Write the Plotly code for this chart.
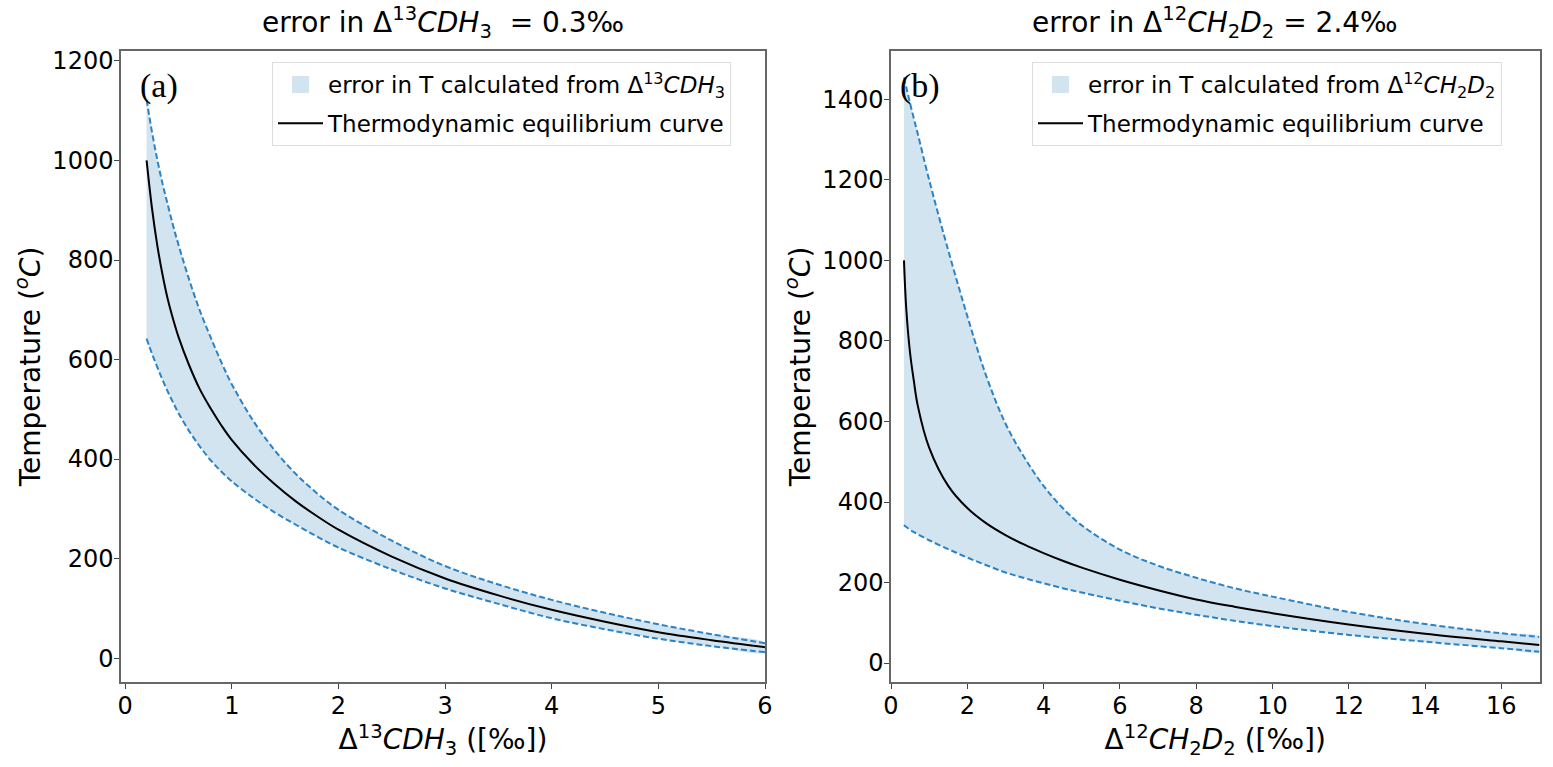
import plotly.graph_objects as go

# panel (a): Delta13CDH3 vs temperature, error 0.3 permil
x_a = [0.2, 0.25, 0.3, 0.35, 0.4, 0.45, 0.5, 0.6, 0.7, 0.8, 0.9, 1.0, 1.2, 1.4, 1.6, 1.8, 2.0, 2.5, 3.0, 3.5, 4.0, 4.5, 5.0, 5.5, 6.0]
t_eq_a = [1000, 905, 830, 770, 720, 680, 645, 588, 540, 502, 468, 438, 390, 350, 315, 285, 258, 204, 160, 126, 97, 73, 52, 36, 22]
t_hi_a = [1122, 1058, 1002, 953, 910, 868, 830, 760, 698, 645, 595, 550, 477, 418, 370, 331, 298, 236, 185, 148, 117, 91, 68, 48, 30]
t_lo_a = [642, 612, 585, 559, 535, 513, 492, 456, 425, 398, 375, 355, 322, 293, 268, 244, 222, 178, 140, 109, 80, 58, 39, 24, 12]

# panel (b): Delta12CH2D2 vs temperature, error 2.4 permil
x_b = [0.34, 0.4, 0.5, 0.6, 0.7, 1.0, 1.5, 2.0, 2.5, 3.0, 3.5, 4.0, 4.5, 5.0, 6.0, 7.0, 8.0, 9.0, 10.0, 12.0, 14.0, 16.0, 17.0]
t_eq_b = [1000, 880, 770, 700, 640, 535, 440, 385, 347, 318, 294, 273, 254, 237, 207, 181, 158, 140, 124, 96, 73, 54, 45]
t_hi_b = [1454, 1430, 1390, 1352, 1315, 1200, 1025, 862, 712, 595, 510, 440, 385, 342, 282, 242, 212, 186, 165, 127, 97, 74, 65]
t_lo_b = [343, 338, 331, 325, 320, 305, 283, 262, 243, 225, 211, 198, 186, 175, 155, 136, 120, 105, 92, 70, 53, 37, 28]

band_color = "rgba(31,119,180,0.2)"
patch_color = "rgb(210,228,240)"
dash_color = "#2b83c6"
font = "DejaVu Sans"

fig = go.Figure()


def add_panel(xs, eq, hi, lo, xa, ya, leg, band_name):
    # banda de error
    fig.add_trace(go.Scatter(x=xs + xs[::-1], y=hi + lo[::-1], fill="toself",
                             fillcolor=band_color, line=dict(width=0), mode="lines",
                             line_shape="spline", showlegend=False,
                             xaxis=xa, yaxis=ya, hoverinfo="skip"))
    # solo para la leyenda (cuadro relleno)
    fig.add_trace(go.Bar(x=[None], y=[None], name=band_name,
                         marker=dict(color=patch_color, line=dict(color=patch_color, width=9)),
                         legend=leg, legendgroup=leg + "a", xaxis=xa, yaxis=ya))
    for ys in (hi, lo):
        fig.add_trace(go.Scatter(x=xs, y=ys, mode="lines", line_shape="spline",
                                 line=dict(color=dash_color, width=2, dash="6px,3px"),
                                 showlegend=False, xaxis=xa, yaxis=ya))
    fig.add_trace(go.Scatter(x=xs, y=eq, mode="lines", line_shape="spline",
                             line=dict(color="black", width=2),
                             name="Thermodynamic equilibrium curve",
                             legend=leg, legendgroup=leg + "b", xaxis=xa, yaxis=ya))


add_panel(x_a, t_eq_a, t_hi_a, t_lo_a, "x", "y", "legend",
          "error in T calculated from Δ<sup>13</sup><i>CDH</i><sub>3</sub>")
add_panel(x_b, t_eq_b, t_hi_b, t_lo_b, "x2", "y2", "legend2",
          "error in T calculated from Δ<sup>12</sup><i>CH</i><sub>2</sub><i>D</i><sub>2</sub>")

W, H = 1553, 767
axis_common = dict(showline=True, linecolor="#666", linewidth=1.5, mirror=True,
                   ticks="outside", ticklen=5, tickcolor="#444", showgrid=False,
                   zeroline=False, automargin=False, ticklabelstandoff=-4,
                   tickfont=dict(size=24, color="black", family=font),
                   title_font=dict(size=28, color="black", family=font))

legend_common = dict(bgcolor="rgba(255,255,255,0.8)", bordercolor="#ddd", borderwidth=1,
                     font=dict(size=23, family=font, color="black"),
                     xanchor="left", yanchor="top", tracegroupgap=6,
                     traceorder="grouped", itemwidth=45)

fig.update_layout(
    width=W, height=H, plot_bgcolor="white", paper_bgcolor="white",
    margin=dict(l=0, r=0, t=0, b=0, autoexpand=False),
    font=dict(family=font, color="black"),
    xaxis=dict(domain=[121 / W, 765 / W], range=[-0.04, 6], dtick=1,
               title=dict(text="Δ<sup>13</sup><i>CDH</i><sub>3</sub> ([‰])", standoff=4),
               anchor="y", **axis_common),
    yaxis=dict(domain=[1 - 682 / H, 1 - 51 / H], range=[-48, 1220], dtick=200,
               title=dict(text="Temperature (<sup><i>o</i></sup><i>C</i>)", standoff=4),
               anchor="x", **axis_common),
    xaxis2=dict(domain=[891 / W, 1539.5 / W], range=[0, 17], dtick=2,
                title=dict(text="Δ<sup>12</sup><i>CH</i><sub>2</sub><i>D</i><sub>2</sub> ([‰])", standoff=4),
                anchor="y2", **axis_common),
    yaxis2=dict(domain=[1 - 682 / H, 1 - 51 / H], range=[-47, 1520], dtick=200,
                title=dict(text="Temperature (<sup><i>o</i></sup><i>C</i>)", standoff=4),
                anchor="x2", **axis_common),
    legend=dict(x=272 / W, y=1 - 62 / H, **legend_common),
    legend2=dict(x=1032 / W, y=1 - 62 / H, **legend_common),
    showlegend=True,
)

# titulos de cada panel
titles = [("error in Δ<sup>13</sup><i>CDH</i><sub>3</sub>  = 0.3‰", 443 / W),
          ("error in Δ<sup>12</sup><i>CH</i><sub>2</sub><i>D</i><sub>2</sub> = 2.4‰", 1215 / W)]
for txt, xp in titles:
    fig.add_annotation(text=txt, x=xp, y=1 - 22 / H, xref="paper", yref="paper",
                       showarrow=False, xanchor="center", yanchor="middle",
                       font=dict(size=28, family=font, color="black"))

for lab, xp in (("(a)", 138 / W), ("(b)", 898 / W)):
    fig.add_annotation(text=lab, x=xp, y=1 - 86 / H, xref="paper", yref="paper",
                       showarrow=False, xanchor="left", yanchor="middle",
                       font=dict(size=34, family="Liberation Serif", color="black"))

# quitar el margen del body para que la figura quede en (0,0)
fig.write_html("out.html", config={"displayModeBar": False},
               post_script="document.body.style.margin='0';")
